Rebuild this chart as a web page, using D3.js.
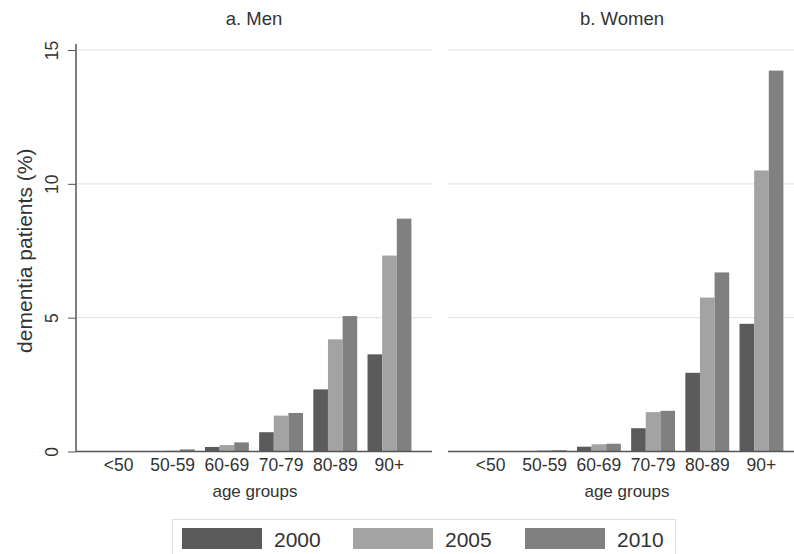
<!DOCTYPE html>
<html>
<head>
<meta charset="utf-8">
<script src="https://cdn.jsdelivr.net/npm/d3@7"></script>
<style>
  body { margin: 0; background: #fff; }
  text { font-family: Arial, "Liberation Sans", sans-serif; fill: #333; }
</style>
</head>
<body>
<div id="chart"></div>
<script>
// age groups on the x axis
const ageGroups = ['<50', '50-59', '60-69', '70-79', '80-89', '90+']
const years = ['2000', '2005', '2010']
const yTicks = [0, 5, 10, 15]

// dementia patients (%) per age group, one array per year
const men2000 = [0.0, 0.02, 0.17, 0.72, 2.32, 3.63]
const men2005 = [0.0, 0.03, 0.24, 1.34, 4.19, 7.32]
const men2010 = [0.0, 0.08, 0.34, 1.44, 5.06, 8.70]
const women2000 = [0.0, 0.02, 0.18, 0.87, 2.94, 4.77]
const women2005 = [0.0, 0.04, 0.27, 1.47, 5.75, 10.50]
const women2010 = [0.0, 0.05, 0.29, 1.52, 6.69, 14.23]

const panels = [
  { title: 'a. Men', series: [men2000, men2005, men2010] },
  { title: 'b. Women', series: [women2000, women2005, women2010] }
]

const colors = ['#5b5b5b', '#a3a3a3', '#808080']

const width = 794, height = 554
const panelW = 356
const panelLeft = [76, 448]
const plotTop = 50, plotBottom = 451.5
const tickFont = 17.5

const svg = d3.select('#chart')
  .append('svg')
  .attr('width', width)
  .attr('height', height)

const y = d3.scaleLinear()
  .domain([0, 15])
  .range([plotBottom, plotTop])

const color = d3.scaleOrdinal().domain(years).range(colors)

panels.forEach((p, pi) => {
  const x0 = panelLeft[pi]
  const x = d3.scaleBand()
    .domain(ageGroups)
    .range([x0, x0 + panelW])
    .paddingInner(0.19)
    .paddingOuter(0.38)
  const xs = d3.scaleBand()
    .domain(years)
    .range([0, x.bandwidth()])

  const g = svg.append('g')

  // horizontal grid lines
  g.append('g')
    .selectAll('line')
    .data(yTicks.filter(t => t > 0))
    .join('line')
    .attr('x1', x0)
    .attr('x2', x0 + panelW)
    .attr('y1', d => y(d))
    .attr('y2', d => y(d))
    .attr('stroke', '#e6e6e6')
    .attr('stroke-width', 1.2)

  // bars
  years.forEach((yr, si) => {
    g.append('g')
      .selectAll('rect')
      .data(p.series[si])
      .join('rect')
      .attr('x', (d, i) => x(ageGroups[i]) + xs(yr))
      .attr('width', xs.bandwidth())
      .attr('y', d => y(d))
      .attr('height', d => y(0) - y(d))
      .attr('fill', color(yr))
  })

  // x axis (labels only, no ticks)
  g.append('g')
    .attr('transform', `translate(0,${plotBottom})`)
    .call(d3.axisBottom(x).tickSize(0).tickPadding(7))
    .call(a => a.select('.domain').attr('stroke', '#555').attr('stroke-width', 1.5)
      .attr('d', `M${x0},0H${x0 + panelW}`))
    .call(a => a.selectAll('.tick text')
      .attr('font-size', tickFont)
      .attr('fill', '#333')
      .style('font-family', 'Arial, "Liberation Sans", sans-serif'))

  // axis title
  g.append('text')
    .attr('x', x0 + 179)
    .attr('y', 497)
    .attr('text-anchor', 'middle')
    .attr('font-size', 17)
    .text('age groups')

  // panel title
  g.append('text')
    .attr('x', pi === 0 ? 254 : 622)
    .attr('y', 25)
    .attr('text-anchor', 'middle')
    .attr('font-size', 18.5)
    .text(p.title)
})

// y axis on the first panel
svg.append('g')
  .attr('transform', `translate(${panelLeft[0]},0)`)
  .call(d3.axisLeft(y).tickValues(yTicks).tickSize(8).tickPadding(10))
  .call(a => a.select('.domain').attr('stroke', '#555').attr('stroke-width', 1.5)
    .attr('d', `M0,${plotTop - 6}V${plotBottom}`))
  .call(a => a.selectAll('.tick line').attr('stroke', '#555'))
  .call(a => a.selectAll('.tick text')
    .attr('font-size', tickFont)
    .attr('fill', '#333')
    .style('font-family', 'Arial, "Liberation Sans", sans-serif')
    .attr('text-anchor', 'middle')
    .attr('dy', 0)
    .attr('x', -24)
    .attr('y', 6)
    .attr('transform', 'rotate(-90, -24, 0)'))

svg.append('text')
  .attr('transform', `translate(32,${(plotTop + plotBottom) / 2}) rotate(-90)`)
  .attr('text-anchor', 'middle')
  .attr('font-size', 21)
  .text('dementia patients (%)')

// legend
const legend = svg.append('g')
legend.append('rect')
  .attr('x', 172.5)
  .attr('y', 519.5)
  .attr('width', 503)
  .attr('height', 50)
  .attr('fill', '#fff')
  .attr('stroke', '#ddd')

const legendPos = { '2000': 182, '2005': 353, '2010': 525 }
const item = legend.selectAll('g.item')
  .data(years)
  .join('g')
  .attr('class', 'item')
  .attr('transform', d => `translate(${legendPos[d]},0)`)
item.append('rect')
  .attr('y', 528)
  .attr('width', 80)
  .attr('height', 21)
  .attr('fill', d => color(d))
item.append('text')
  .attr('x', 92)
  .attr('y', 546.5)
  .attr('font-size', 21)
  .text(d => d)
</script>
</body>
</html>
